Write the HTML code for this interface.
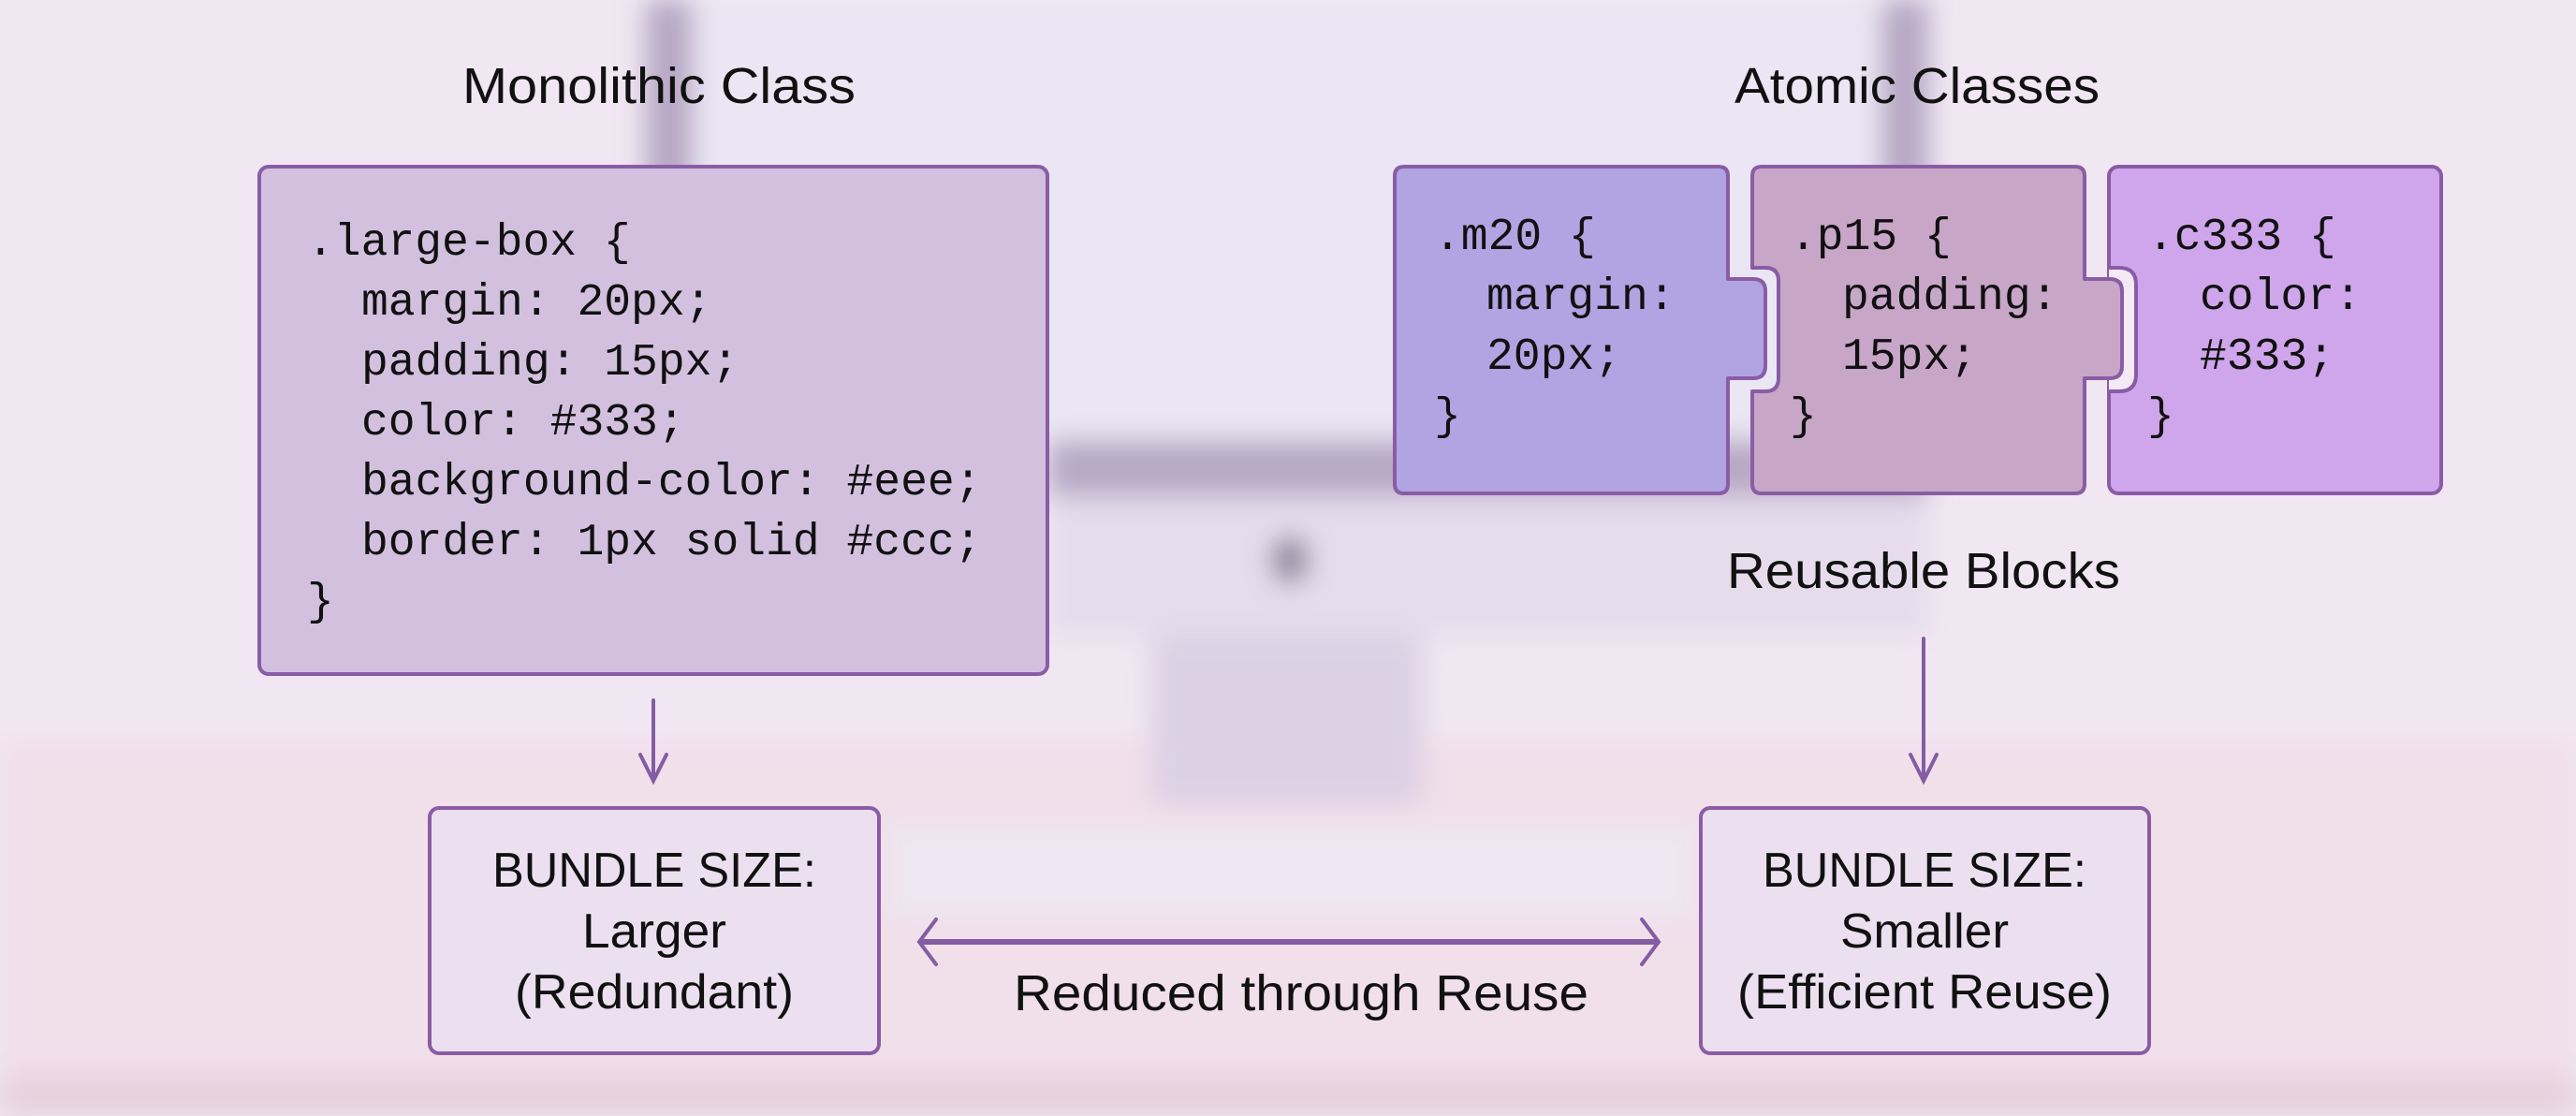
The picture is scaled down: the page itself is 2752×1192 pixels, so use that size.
<!DOCTYPE html>
<html><head><meta charset="utf-8"><style>
html,body{margin:0;padding:0;width:2752px;height:1192px;overflow:hidden;background:#f0e6f2}
svg{display:block}
.s{font-family:"Liberation Sans",sans-serif;fill:#111}
.m{font-family:"Liberation Mono","DejaVu Sans Mono",monospace;fill:#111;font-size:48px}
</style></head><body>
<svg width="2752" height="1192" viewBox="0 0 2752 1192" xmlns="http://www.w3.org/2000/svg">
<defs>
<filter id="b" x="-20%" y="-20%" width="140%" height="140%"><feGaussianBlur stdDeviation="14"/></filter>
</defs>
<rect width="2752" height="1192" fill="#f1e7f3"/>
<g filter="url(#b)">
<rect x="0" y="790" width="2752" height="402" fill="#f1dfea"/>
<rect x="690" y="0" width="50" height="520" fill="#b6a6c4"/>
<rect x="2010" y="0" width="50" height="520" fill="#b6a6c4"/>
<rect x="740" y="0" width="1270" height="470" fill="#eae6f3"/>
<rect x="1120" y="470" width="940" height="60" fill="#b7a7c5"/>
<rect x="1120" y="530" width="940" height="150" fill="#e6dcec"/>
<ellipse cx="1378" cy="598" rx="20" ry="26" fill="#8e8098"/>
<rect x="1230" y="680" width="290" height="180" fill="#ddd0e4"/>
<rect x="950" y="880" width="860" height="100" fill="#eee6f2"/>
<rect x="0" y="1148" width="2752" height="44" fill="#e6d0dc"/>
</g>

<text class="s" x="704" y="110" font-size="54" text-anchor="middle" textLength="420" lengthAdjust="spacingAndGlyphs">Monolithic Class</text>
<text class="s" x="2048" y="110" font-size="54" text-anchor="middle" textLength="390" lengthAdjust="spacingAndGlyphs">Atomic Classes</text>
<text class="s" x="2055" y="628" font-size="54" text-anchor="middle" textLength="420" lengthAdjust="spacingAndGlyphs">Reusable Blocks</text>

<rect x="277" y="178" width="842" height="542" rx="10" fill="#d3c0df" stroke="#8a5ca6" stroke-width="4"/>
<g class="m">
<text x="328" y="272">.large-box {</text>
<text x="386" y="336">margin: 20px;</text>
<text x="386" y="400">padding: 15px;</text>
<text x="386" y="464">color: #333;</text>
<text x="386" y="528">background-color: #eee;</text>
<text x="386" y="592">border: 1px solid #ccc;</text>
<text x="328" y="656">}</text>
</g>

<g stroke="#8a5ca6" stroke-width="4" stroke-linejoin="round">
<rect x="2253" y="178" width="355" height="349" rx="10" fill="#cfa6ec"/>
<path d="M2253,286 L2264,286 Q2282,286 2282,304 L2282,400 Q2282,418 2264,418 L2253,418" fill="#f3eaf6" stroke="none"/>
<path d="M2253,286 L2264,286 Q2282,286 2282,304 L2282,400 Q2282,418 2264,418 L2253,418" fill="none"/>
<path d="M1882,178 L2217,178 Q2227,178 2227,188 L2227,298 L2254,298 Q2267,298 2267,311 L2267,391 Q2267,404 2254,404 L2227,404 L2227,517 Q2227,527 2217,527 L1882,527 Q1872,527 1872,517 L1872,418 L1886,418 Q1900,418 1900,404 L1900,300 Q1900,286 1886,286 L1872,286 L1872,188 Q1872,178 1882,178 Z" fill="#c8a6c8"/>
<path d="M1500,178 L1836,178 Q1846,178 1846,188 L1846,298 L1873,298 Q1886,298 1886,311 L1886,391 Q1886,404 1873,404 L1846,404 L1846,517 Q1846,527 1836,527 L1500,527 Q1490,527 1490,517 L1490,188 Q1490,178 1500,178 Z" fill="#b0a4e2"/>
</g>
<g class="m">
<text x="1532" y="266">.m20 {</text>
<text x="1588" y="330">margin:</text>
<text x="1588" y="394">20px;</text>
<text x="1532" y="458">}</text>
<text x="1912" y="266">.p15 {</text>
<text x="1968" y="330">padding:</text>
<text x="1968" y="394">15px;</text>
<text x="1912" y="458">}</text>
<text x="2294" y="266">.c333 {</text>
<text x="2350" y="330">color:</text>
<text x="2350" y="394">#333;</text>
<text x="2294" y="458">}</text>
</g>

<g stroke="#845ca4" stroke-width="4" fill="none" stroke-linecap="round">
<line x1="698" y1="748" x2="698" y2="832"/>
<polyline points="684,806 698,834 712,806"/>
<line x1="2055" y1="682" x2="2055" y2="832"/>
<polyline points="2041,806 2055,834 2069,806"/>
<line x1="984" y1="1006" x2="1770" y2="1006" stroke-width="6"/>
<polyline points="1000,982 982,1006 1000,1030"/>
<polyline points="1754,982 1772,1006 1754,1030"/>
</g>

<rect x="459" y="863" width="480" height="262" rx="10" fill="#ece0f0" stroke="#8a5ca6" stroke-width="4"/>
<rect x="1817" y="863" width="479" height="262" rx="10" fill="#ece0f0" stroke="#8a5ca6" stroke-width="4"/>
<g class="s" font-size="52" text-anchor="middle">
<text x="699" y="947" textLength="346" lengthAdjust="spacingAndGlyphs">BUNDLE SIZE:</text>
<text x="699" y="1012" textLength="154" lengthAdjust="spacingAndGlyphs">Larger</text>
<text x="699" y="1077" textLength="298" lengthAdjust="spacingAndGlyphs">(Redundant)</text>
<text x="2056" y="947" textLength="346" lengthAdjust="spacingAndGlyphs">BUNDLE SIZE:</text>
<text x="2056" y="1012" textLength="180" lengthAdjust="spacingAndGlyphs">Smaller</text>
<text x="2056" y="1077" textLength="400" lengthAdjust="spacingAndGlyphs">(Efficient Reuse)</text>
<text x="1390" y="1079" font-size="54" textLength="614" lengthAdjust="spacingAndGlyphs">Reduced through Reuse</text>
</g>
</svg>
</body></html>
